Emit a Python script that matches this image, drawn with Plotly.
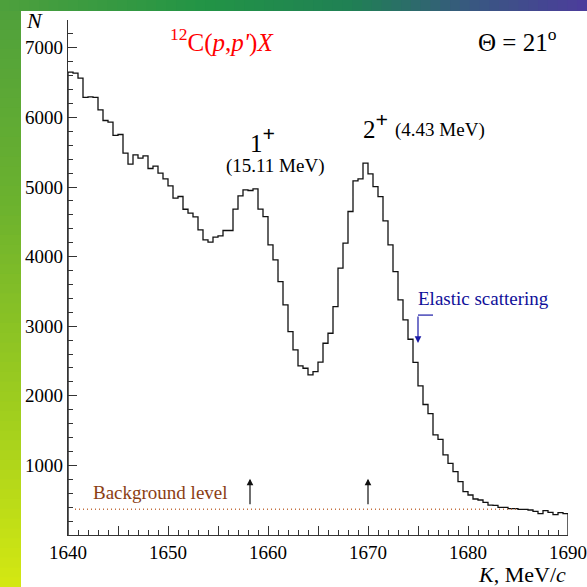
import plotly.graph_objects as go

# Momentum spectrum of scattered protons, 12C(p,p')X at 21 degrees
K_START = 1640.0
BIN_WIDTH = 0.5
counts = [
    6651, 6637, 6565, 6287, 6296, 6287, 6109, 5956, 5932, 5741,
    5755, 5486, 5328, 5463, 5414, 5448, 5266, 5300, 5199, 5118,
    5017, 4840, 4864, 4681, 4624, 4570, 4384, 4241, 4207, 4279,
    4298, 4375, 4375, 4682, 4873, 4959, 4950, 4974, 4682, 4576,
    4169, 3953, 3641, 3306, 2923, 2659, 2429, 2396, 2300, 2348,
    2483, 2755, 2899, 3282, 3834, 4193, 4648, 5089, 5118, 5343,
    5189, 5007, 4863, 4514, 4169, 3785, 3378, 3091, 2813, 2480,
    2142, 1875, 1745, 1438, 1375, 1150, 1030, 910, 766, 623,
    575, 517, 503, 470, 430, 427, 398, 398, 379, 379,
    369, 369, 359, 340, 307, 350, 326, 292, 321, 307,
]

x_ticks = [1640, 1645, 1650, 1655, 1660, 1665, 1670, 1675, 1680, 1685, 1690]
x_tick_text = ["1640", " ", "1650", " ", "1660", " ", "1670", " ", "1680", " ", "1690"]
y_ticks = [1000, 2000, 3000, 4000, 5000, 6000, 7000]
y_tick_text = ["1000", "2000", "3000", "4000", "5000", "6000", "7000"]

background_level = 370
background_from, background_to = 1640.7, 1685.0
peak_marks = [1658.2, 1670.0]          # 15.11 MeV and 4.43 MeV states
peak_arrow_low, peak_arrow_high = 420, 810
elastic_K = 1675.0
elastic_arrow_top, elastic_arrow_tip = 3160, 2760
elastic_hook_K = 1676.5

# histogram outline as a step line, closed down to zero at both ends
left_edges = [K_START + i * BIN_WIDTH for i in range(len(counts))]
K_END = K_START + len(counts) * BIN_WIDTH
xs = [K_START] + left_edges + [K_END, K_END]
ys = [0] + counts + [counts[-1], 0]

W = H = 587
ML, MR, MT, MB = 68, 19, 20, 52
PW, PH = W - ML - MR, H - MT - MB


def px(x):
    return (x - ML) / PW


def py(y):
    return 1 - (y - MT) / PH


SERIF = "Liberation Serif"

fig = go.Figure()
fig.add_trace(go.Scatter(
    x=xs, y=ys, mode="lines", line=dict(color="#111111", width=1.3, shape="hv"),
    hoverinfo="skip", showlegend=False,
))
fig.add_trace(go.Scatter(
    x=[background_from, background_to], y=[background_level, background_level],
    mode="lines", line=dict(color="#c47040", width=1.4, dash="1px,3px"),
    hoverinfo="skip", showlegend=False,
))

shapes = []


def lerp(c1, c2, t):
    return tuple(round(a + (b - a) * t) for a, b in zip(c1, c2))


def ramp(stops, t):
    for (t0, c0), (t1, c1) in zip(stops, stops[1:]):
        if t <= t1:
            return lerp(c0, c1, (t - t0) / (t1 - t0))
    return stops[-1][1]


top_stops = [(0.0, (78, 160, 60)), (0.35, (34, 148, 70)), (0.6, (32, 128, 84)),
             (0.8, (56, 88, 128)), (1.0, (76, 60, 156))]
left_stops = [(0.0, (78, 160, 60)), (0.35, (108, 178, 46)), (0.7, (160, 206, 30)),
              (1.0, (212, 232, 18))]
N_SLICES = 60
for i in range(N_SLICES):
    t = (i + 0.5) / N_SLICES
    c = "rgb(%d,%d,%d)" % ramp(top_stops, t)
    shapes.append(dict(type="rect", xref="paper", yref="paper",
                       x0=px(i * W / N_SLICES), x1=px((i + 1) * W / N_SLICES + 1),
                       y0=py(11), y1=py(0), fillcolor=c, line=dict(width=0), layer="below"))
    c = "rgb(%d,%d,%d)" % ramp(left_stops, t)
    shapes.append(dict(type="rect", xref="paper", yref="paper",
                       x0=px(0), x1=px(21),
                       y0=py((i + 1) * H / N_SLICES + 1), y1=py(max(i * H / N_SLICES, 11)),
                       fillcolor=c, line=dict(width=0), layer="below"))

# elastic-scattering pointer: short horizontal hook
shapes.append(dict(type="line", xref="x", yref="y", x0=elastic_hook_K, x1=elastic_K,
                   y0=elastic_arrow_top, y1=elastic_arrow_top,
                   line=dict(color="#1a1aa6", width=1.2)))

annotations = []


def label(text, x, y, size, color="#000000", xanchor="center"):
    annotations.append(dict(text=text, x=px(x), y=py(y), xref="paper", yref="paper",
                            xanchor=xanchor, yanchor="middle", showarrow=False,
                            font=dict(family=SERIF, size=size, color=color)))


PLUS = "<sup><b><span style='font-size:22px'>+</span></b></sup>"
label("<sup>12</sup>C(<i>p</i>,<i>p'</i>)<i>X</i>", 168, 41, 25, "#ff0000", "left")
label("\u0398 = 21<sup>o</sup>", 476, 40, 25, "#000000", "left")
label("1" + PLUS, 248, 139, 25, "#000000", "left")
label("(15.11 MeV)", 275, 166, 19)
label("2" + PLUS, 361, 125, 25, "#000000", "left")
label("(4.43 MeV)", 393, 130, 19, "#000000", "left")
label("Elastic scattering", 416, 298, 19, "#10109a", "left")
label("Background level", 91, 492, 19, "#8b3e14", "left")
label("<i>N</i>", 34, 20, 22)
label("<i>K</i>, MeV/<i>c</i>", 568, 574, 22, "#000000", "right")

for k in peak_marks:
    annotations.append(dict(x=k, y=peak_arrow_high, ax=k, ay=peak_arrow_low,
                            xref="x", yref="y", axref="x", ayref="y", text="",
                            showarrow=True, arrowhead=2, arrowsize=1.1, arrowwidth=1.2,
                            arrowcolor="#111111"))
annotations.append(dict(x=elastic_K, y=elastic_arrow_tip, ax=elastic_K, ay=elastic_arrow_top,
                        xref="x", yref="y", axref="x", ayref="y", text="",
                        showarrow=True, arrowhead=2, arrowsize=1.1, arrowwidth=1.2,
                        arrowcolor="#1a1aa6"))

axis_common = dict(showgrid=False, zeroline=False, showline=True, linecolor="#333333",
                   linewidth=1.3, ticks="inside", tickcolor="#333333", tickwidth=1,
                   ticklen=9, automargin=False,
                   tickfont=dict(family=SERIF, size=19, color="#000000"))

fig.update_layout(
    width=W, height=H, autosize=False, margin=dict(l=ML, r=MR, t=MT, b=MB),
    paper_bgcolor="#ffffff", plot_bgcolor="rgba(0,0,0,0)",
    shapes=shapes, annotations=annotations,
    xaxis=dict(range=[K_START, K_END], tickmode="array", tickvals=x_ticks,
               ticktext=x_tick_text,
               minor=dict(dtick=1, ticklen=4.5, tickcolor="#333333", ticks="inside"),
               **axis_common),
    yaxis=dict(range=[0, 7400], tickmode="array", tickvals=y_ticks, ticktext=y_tick_text,
               minor=dict(dtick=200, ticklen=4.5, tickcolor="#333333", ticks="inside"),
               **axis_common),
)

fig.write_html(
    "out.html",
    config={"responsive": False, "displayModeBar": False},
    post_script="document.body.style.margin='0';document.body.style.overflow='hidden';",
)
